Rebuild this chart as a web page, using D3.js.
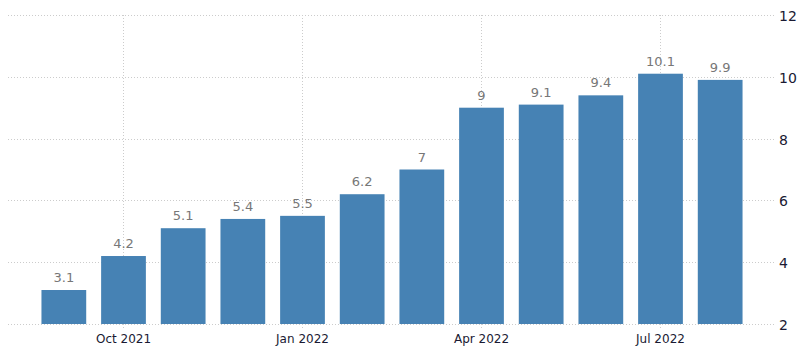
<!DOCTYPE html>
<html>
<head>
<meta charset="utf-8">
<script src="https://cdn.jsdelivr.net/npm/d3@7"></script>
<style>
  body { margin: 0; background: #fff; }
  svg { display: block; font-family: "DejaVu Sans", Tahoma, Arial, sans-serif; }
</style>
</head>
<body>
<svg id="chart" width="800" height="352"></svg>
<script>
// UK CPI, Sep 2021 - Aug 2022
const months = ['Sep 2021', 'Oct 2021', 'Nov 2021', 'Dec 2021', 'Jan 2022', 'Feb 2022',
                'Mar 2022', 'Apr 2022', 'May 2022', 'Jun 2022', 'Jul 2022', 'Aug 2022'];
const values = [3.1, 4.2, 5.1, 5.4, 5.5, 6.2, 7, 9, 9.1, 9.4, 10.1, 9.9];
const xTickLabels = ['Oct 2021', 'Jan 2022', 'Apr 2022', 'Jul 2022'];
const yTicks = [2, 4, 6, 8, 10, 12];

const svg = d3.select('#chart');

const x = d3.scaleBand()
    .domain(months)
    .range([34, 750])
    .paddingInner(0.25)
    .paddingOuter(0.125);

const y = d3.scaleLinear()
    .domain([2, 12])
    .range([324, 15]);

// horizontal grid
svg.append('g')
    .selectAll('line')
    .data(yTicks)
    .join('line')
    .attr('x1', 8)
    .attr('x2', 775)
    .attr('y1', d => Math.round(y(d)) + 0.5)
    .attr('y2', d => Math.round(y(d)) + 0.5)
    .attr('stroke', '#ccc')
    .attr('stroke-dasharray', '1,2');

// vertical grid at labelled months
svg.append('g')
    .selectAll('line')
    .data(xTickLabels)
    .join('line')
    .attr('x1', d => Math.round(x(d) + x.bandwidth() / 2) - 0.5)
    .attr('x2', d => Math.round(x(d) + x.bandwidth() / 2) - 0.5)
    .attr('y1', y(12))
    .attr('y2', y(2) + 4)
    .attr('stroke', '#ccc')
    .attr('stroke-dasharray', '1,2');

// bars
svg.append('g')
    .selectAll('rect')
    .data(values)
    .join('rect')
    .attr('x', (d, i) => x(months[i]))
    .attr('width', x.bandwidth())
    .attr('y', d => y(d))
    .attr('height', d => y(2) - y(d))
    .attr('fill', '#4682b4');

// value labels
svg.append('g')
    .selectAll('text')
    .data(values)
    .join('text')
    .attr('x', (d, i) => x(months[i]) + x.bandwidth() / 2)
    .attr('y', d => y(d) - 8)
    .attr('text-anchor', 'middle')
    .style('font-size', '13px')
    .style('fill', '#777')
    .text(d => d);

// x labels
svg.append('g')
    .selectAll('text')
    .data(xTickLabels)
    .join('text')
    .attr('x', d => x(d) + x.bandwidth() / 2)
    .attr('y', 343)
    .attr('text-anchor', 'middle')
    .style('font-size', '12px')
    .style('fill', '#1a1a33')
    .text(d => d);

// y labels
svg.append('g')
    .selectAll('text')
    .data(yTicks)
    .join('text')
    .attr('x', 779)
    .attr('y', d => y(d) + 6)
    .style('font-size', '14px')
    .style('fill', '#1a1a33')
    .text(d => d);
</script>
</body>
</html>
